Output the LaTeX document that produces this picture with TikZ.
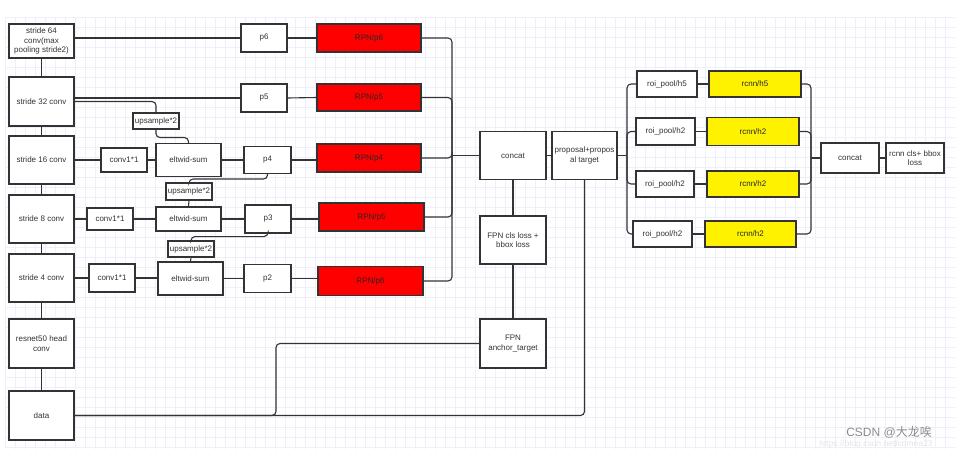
\documentclass[tikz,border=0pt]{standalone}
\usepackage{fontspec}
\setmainfont{Liberation Sans}
\newfontfamily\cjk{Noto Sans CJK SC}
\usepackage{xcolor}
\definecolor{gridc}{RGB}{238,238,252}
\definecolor{linec}{RGB}{51,51,51}

\begin{document}
\begin{tikzpicture}[x=1pt, y=-1pt,
  blk/.style={draw=linec, line width=1.1pt, fill=white, inner sep=1pt, align=center,
    text=linec, font=\fontsize{8}{9.5}\selectfont},
  sz/.style 2 args={minimum width=#1, minimum height=#2},
  rpn/.style={blk, fill=red, text=black!85},
  rcnn/.style={blk, fill=yellow, text=black!85},
  wire/.style={draw=linec, line width=1.1pt, rounded corners=4pt},
  trunk/.style={draw=linec, line width=1.8pt}]
  \useasboundingbox[fill=white] (0,0) rectangle (955,449);
  \foreach \gx in {5,15,...,955} \draw[gridc, line width=0.4pt] (\gx,17) -- (\gx,449);
  \foreach \gy in {17,27,...,447} \draw[gridc, line width=0.4pt] (5,\gy) -- (955,\gy);

  % backbone
  \node[blk, sz={65}{34}] (s64) at (41.5,41) {stride 64\\conv(max\\pooling stride2)};
  \node[blk, sz={65}{49}] (s32) at (41.5,101.5) {stride 32 conv};
  \node[blk, sz={65}{48}] (s16) at (41.5,160) {stride 16 conv};
  \node[blk, sz={65}{48}] (s8) at (41.5,219) {stride 8 conv};
  \node[blk, sz={65}{48}] (s4) at (41.5,278) {stride 4 conv};
  \node[blk, sz={65}{49}] (res) at (41.5,343.5) {resnet50 head\\conv};
  \node[blk, sz={65}{49}] (data) at (41.5,415.5) {data};
  \foreach \a/\b in {s64/s32, s32/s16, s16/s8, s8/s4, s4/res, res/data}
    \draw[trunk] (\a.south) -- (\b.north);

  % lateral path
  \node[blk, sz={46}{24}] (c16) at (124,160) {conv1*1};
  \node[blk, sz={46}{22}] (c8) at (110,219) {conv1*1};
  \node[blk, sz={46}{28}] (c4) at (112,278) {conv1*1};
  \node[blk, sz={65}{33}] (sum16) at (188.5,160) {eltwid-sum};
  \node[blk, sz={65}{24}] (sum8) at (188.5,219) {eltwid-sum};
  \node[blk, sz={65}{33}] (sum4) at (190.5,278.5) {eltwid-sum};
  \node[blk, sz={46}{16}] (up1) at (156,121) {upsample*2};
  \node[blk, sz={46}{17}] (up2) at (189,191.5) {upsample*2};
  \node[blk, sz={46}{16}] (up3) at (191,249) {upsample*2};

  \node[blk, sz={46}{28}] (p6) at (264,38) {p6};
  \node[blk, sz={46}{28}] (p5) at (264,98) {p5};
  \node[blk, sz={47}{27}] (p4) at (267.5,160) {p4};
  \node[blk, sz={46}{28}] (p3) at (268,219) {p3};
  \node[blk, sz={47}{28}] (p2) at (267.5,278.5) {p2};

  \node[rpn, sz={104}{28}] (rpn6) at (369,38) {RPN/p6};
  \node[rpn, sz={104}{27}] (rpn5) at (369,97.5) {RPN/p5};
  \node[rpn, sz={104}{28}] (rpn4) at (369,158) {RPN/p4};
  \node[rpn, sz={105}{28}] (rpn3) at (371.5,217) {RPN/p5};
  \node[rpn, sz={105}{29}] (rpn2) at (370.5,281) {RPN/p6};

  \draw[wire] (s64.east |- p6.west) -- (p6.west);
  \draw[wire] (s32.east |- p5.west) -- (p5.west);
  \draw[wire] (s32.east) -| (up1.north);
  \draw[wire] (up1.south) -- ++(0,8) -| (sum16.north);
  \draw[wire] (p4.south) -- ++(0,5) -| (up2.north);
  \draw[wire] (up2.south) -- (sum8.north);
  \draw[wire] (p3.south) -- ++(0,3) -| (up3.north);
  \draw[wire] (up3.south) -- (sum4.north);
  \foreach \a/\b/\c/\d in {s16/c16/sum16/p4, s8/c8/sum8/p3, s4/c4/sum4/p2}
    \draw[wire] (\a.east) -- (\b.west) (\b.east) -- (\b.east -| \c.west) (\c.east) -- (\c.east -| \d.west);
  \draw[wire] (p6.east) -- (rpn6.west);
  \draw[wire] (p5.east) -- (rpn5.west);
  \draw[wire] (p4.east) -- (p4.east -| rpn4.west);
  \draw[wire] (p3.east) -- (p3.east -| rpn3.west);
  \draw[wire] (p2.east) -- (p2.east -| rpn2.west);

  % fpn heads
  \node[blk, sz={66}{48}] (concat) at (513,155.5) {concat};
  \node[blk, sz={65}{48}] (prop) at (584.5,155.5) {proposal+propos\\al target};
  \node[blk, sz={66}{48}] (fpnloss) at (513,240) {FPN cls loss +\\bbox loss};
  \node[blk, sz={66}{49}] (anchor) at (513,343.5) {FPN\\anchor\_target};
  \coordinate (j1) at (452,155.5);
  \coordinate (k1) at (276,380);
  \foreach \r in {rpn6, rpn5, rpn4, rpn3, rpn2}
    \draw[wire] (\r.east) -| (j1);
  \draw[wire, line width=1.8pt] (j1) -- (concat.west);
  \draw[wire] (concat.east) -- (prop.west);
  \draw[wire] (concat.south) -- (fpnloss.north);
  \draw[wire] (fpnloss.south) -- (anchor.north);
  \draw[wire] (data.east) -| (k1) |- (anchor.west);
  \draw[wire] (data.east) -| (prop.south);

  % rcnn heads
  \node[blk, sz={60}{26}] (roi1) at (667,84) {roi\_pool/h5};
  \node[blk, sz={59}{27}] (roi2) at (665.5,131.5) {roi\_pool/h2};
  \node[blk, sz={58}{26}] (roi3) at (665,184) {roi\_pool/h2};
  \node[blk, sz={59}{26}] (roi4) at (662.5,234) {roi\_pool/h2};
  \node[rcnn, sz={92}{26}] (rc1) at (755,84) {rcnn/h5};
  \node[rcnn, sz={92}{28}] (rc2) at (753,131.5) {rcnn/h2};
  \node[rcnn, sz={92}{26}] (rc3) at (753,184) {rcnn/h2};
  \node[rcnn, sz={91}{26}] (rc4) at (750.5,234) {rcnn/h2};
  \node[blk, sz={58}{30}] (concat2) at (850,158) {concat};
  \node[blk, sz={58}{30}] (loss2) at (915,158) {rcnn cls+ bbox\\loss};
  \coordinate (j2) at (627,155.5);
  \coordinate (j3) at (811,158);
  \draw[wire, line width=1.8pt] (prop.east) -- (j2);
  \foreach \n in {1,2,3,4} {
    \draw[wire] (j2) |- (roi\n.west);
    \draw[wire] (roi\n.east) -- (rc\n.west);
    \draw[wire] (rc\n.east) -| (j3);
  }
  \draw[wire, line width=1.8pt] (j3) -- (concat2.west);
  \draw[wire] (concat2.east) -- (loss2.west);

  \node[text=black!45, font=\fontsize{12}{14}\selectfont] (wm) at (889,432) {CSDN @{\cjk 大龙唉}};
  \node[text=black!10, font=\fontsize{8.5}{10}\selectfont] (url) at (876,444) {https://blog.csdn.net/comea23};
\end{tikzpicture}
\end{document}
